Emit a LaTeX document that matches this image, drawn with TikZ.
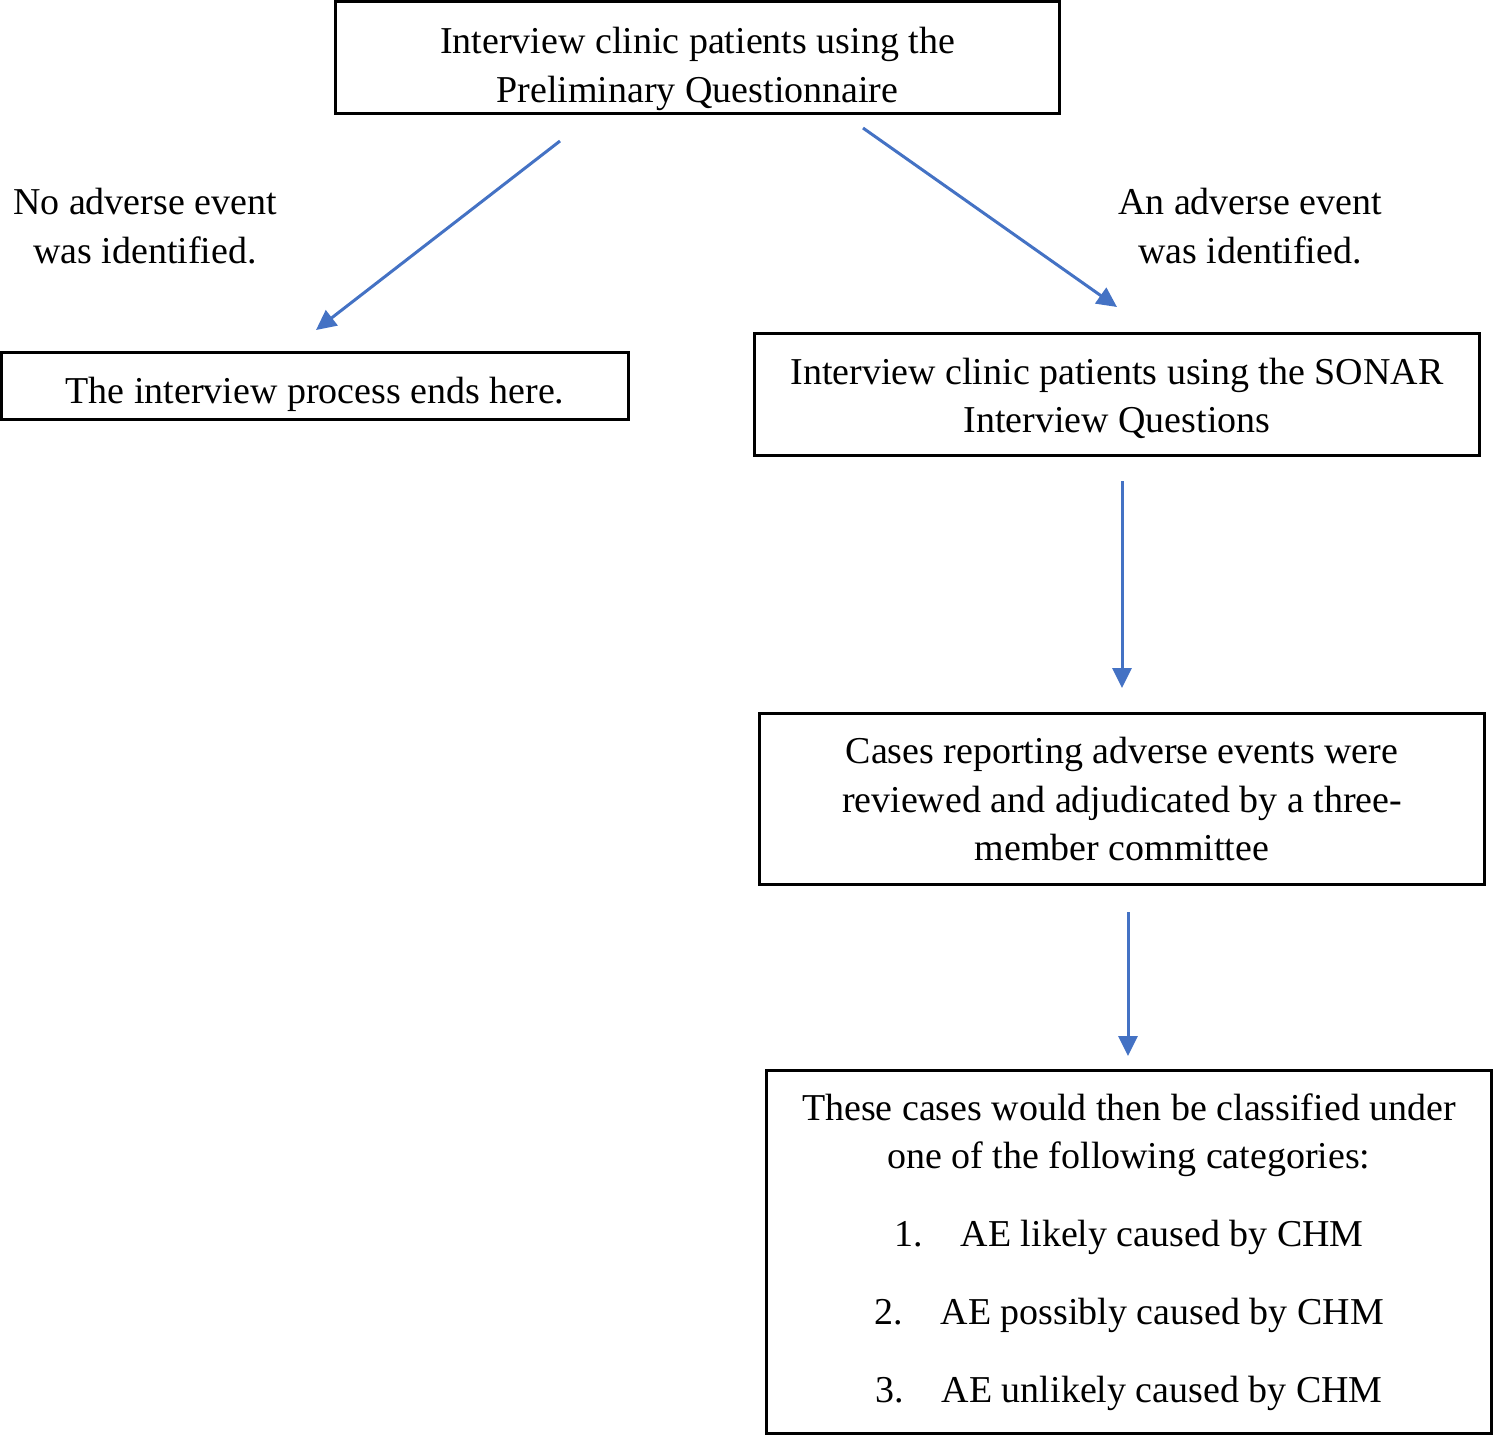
\documentclass[tikz,border=0pt]{standalone}
\usepackage{fontspec}
\setmainfont{Liberation Serif}
\usetikzlibrary{arrows.meta}
\definecolor{arrowblue}{HTML}{4472C4}
\begin{document}
\begin{tikzpicture}[x=0.01cm, y=-0.01cm]
        \tikzstyle{box} = [rectangle, draw=black, line width=0.03cm, text centered, align=center, inner sep=0pt, minimum width=7.24cm, font=\fontsize{10.8pt}{13.9pt}\selectfont]
        \tikzstyle{label} = [align=center, inner sep=0pt, font=\fontsize{10.8pt}{13.9pt}\selectfont]
        \tikzstyle{arrow} = [draw=arrowblue, line width=0.03cm, -{Triangle[length=0.2cm, width=0.19cm]}]

                \useasboundingbox (0,0) rectangle (1493,1435);

                \node (prelim) [box, minimum width=7.23cm, minimum height=1.11cm] at (697.5,57.5) {\rule{0pt}{0.50cm}Interview clinic patients using the \\ Preliminary Questionnaire};
                \node (ends) [box, minimum width=6.26cm, minimum height=0.66cm] at (315,386) {\rule{0pt}{0.44cm}The interview process ends here.};
                \node (sonar) [box, minimum height=1.21cm] at (1117,394.5) {\rule{0pt}{0.34cm}Interview clinic patients using the SONAR \\ Interview Questions};
                \node (review) [box, minimum height=1.70cm] at (1122,799) {Cases reporting adverse events were \\ reviewed and adjudicated by a three- \\ member committee};
                \node (classify) [box, minimum height=3.62cm] at (1129,1252) {These cases would then be classified under \\ one of the following categories: \\[0.29cm]
                        1.\hspace{0.38cm}AE likely caused by CHM \\[0.29cm]
                        2.\hspace{0.38cm}AE possibly caused by CHM \\[0.29cm]
                        3.\hspace{0.38cm}AE unlikely caused by CHM};

                \node (noevent) [label] at (145,226) {No adverse event \\ was identified.};
                \node (anevent) [label] at (1250,226) {An adverse event \\ was identified.};

                \coordinate (l0) at (560,141);
                \coordinate (l1) at (316,330);
                \coordinate (r0) at (863,128);
                \coordinate (r1) at (1117,307);
                \coordinate (d0) at (1122,481);
                \coordinate (d1) at (1122,688);
                \coordinate (e0) at (1128,912);
                \coordinate (e1) at (1128,1056);

                \draw[arrow] (l0) -- (l1);
                \draw[arrow] (r0) -- (r1);
                \draw[arrow] (d0) -- (d1);
                \draw[arrow] (e0) -- (e1);

    \end{tikzpicture}
\end{document}
